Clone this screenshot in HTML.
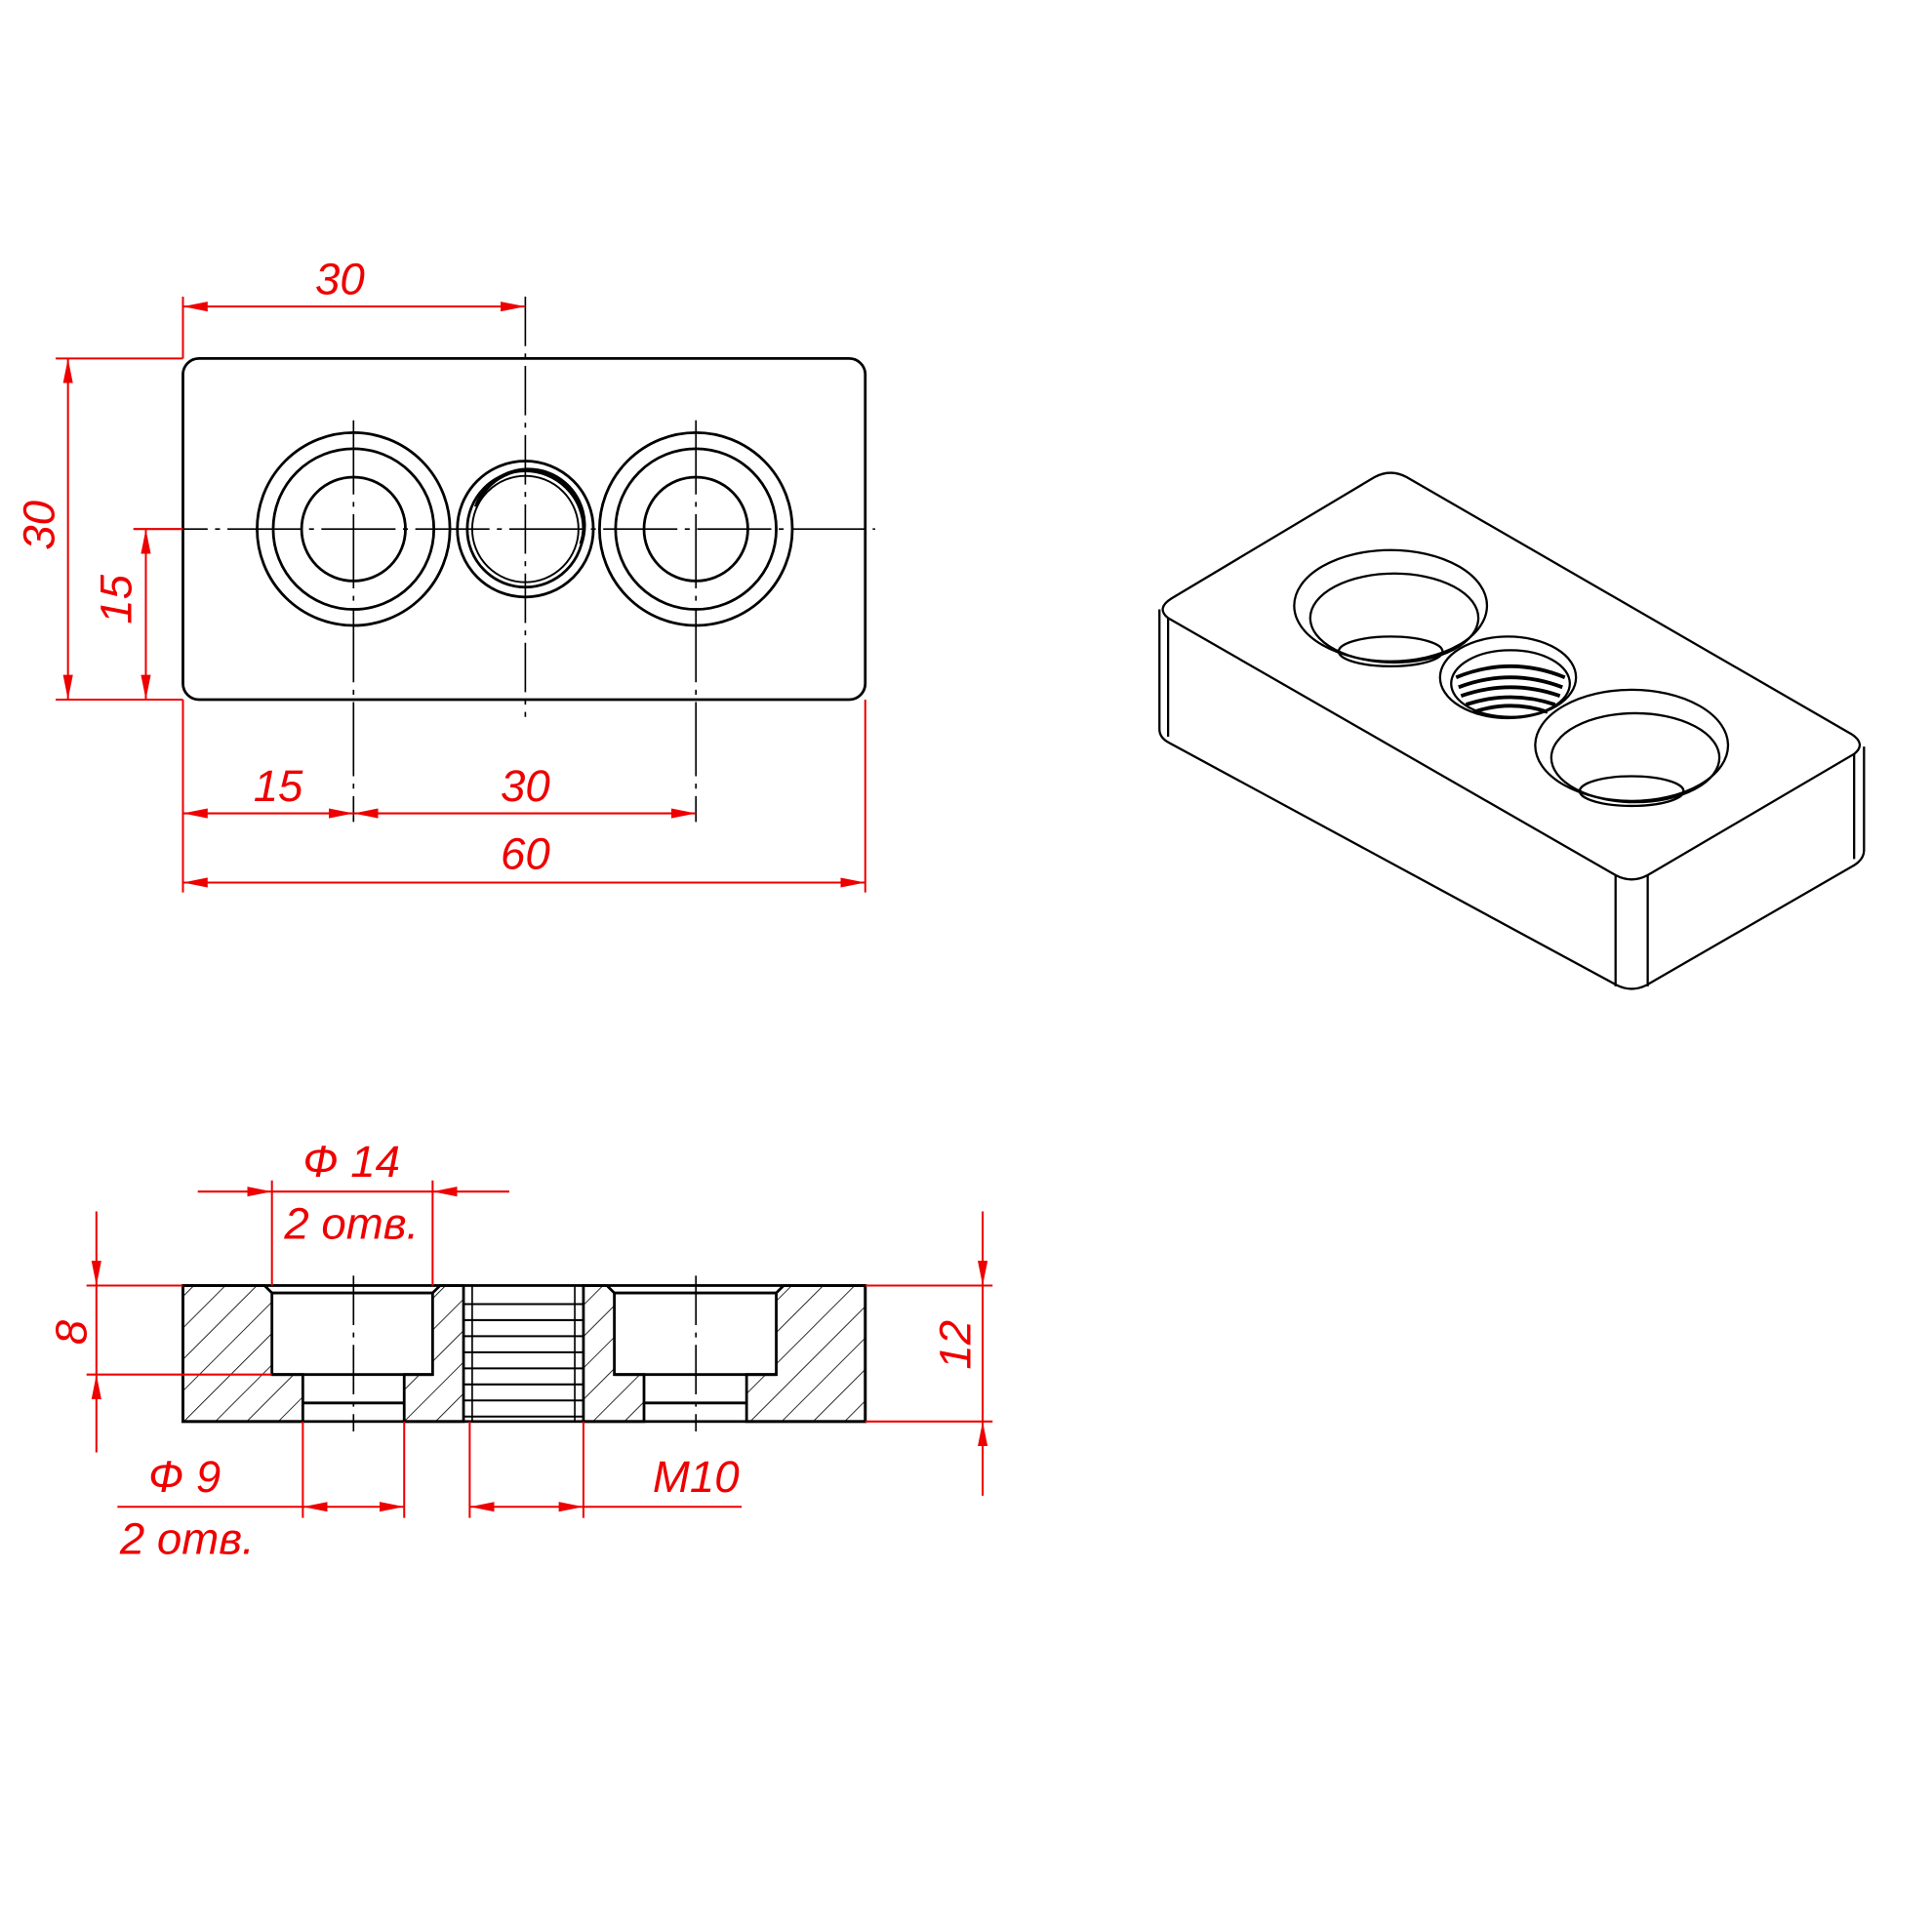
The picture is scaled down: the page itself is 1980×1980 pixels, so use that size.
<!DOCTYPE html>
<html><head><meta charset="utf-8"><style>
html,body{margin:0;padding:0;background:#fff;}
svg{display:block;}
text{font-family:"Liberation Sans","DejaVu Sans",sans-serif;font-style:italic;fill:#e00;font-size:36px;}
</style></head><body>
<svg width="1980" height="1980" viewBox="0 0 1563 1563" xmlns="http://www.w3.org/2000/svg">
<defs>
<marker id="a" viewBox="0 0 20 10" refX="20" refY="5" markerWidth="20" markerHeight="10" markerUnits="userSpaceOnUse" orient="auto-start-reverse"><path d="M0,1 L20,5 L0,9 Z" fill="#e00"/></marker>
<pattern id="h" patternUnits="userSpaceOnUse" width="18" height="18" patternTransform="rotate(45)"><line x1="0" y1="0" x2="0" y2="18" stroke="#000" stroke-width="1.3"/></pattern>
</defs>
<rect width="1563" height="1563" fill="#fff"/>
<g stroke="#000" fill="none" stroke-width="2.2">
<rect x="148" y="290" width="552" height="276" rx="13"/>
<circle cx="286" cy="428" r="78"/><circle cx="286" cy="428" r="65"/><circle cx="286" cy="428" r="42"/>
<circle cx="563" cy="428" r="78"/><circle cx="563" cy="428" r="65"/><circle cx="563" cy="428" r="42"/>
<circle cx="425" cy="428" r="55"/><circle cx="425" cy="428" r="47"/><circle cx="425" cy="428" r="43" stroke-width="1.5"/>
<path d="M385,410 A45,45 0 0 1 470,440" stroke-width="3"/>
</g>
<g stroke="#000" stroke-width="1.3" fill="none">
<line x1="108" y1="428" x2="708" y2="428" stroke-dasharray="60,6,4,6"/>
<line x1="286" y1="340" x2="286" y2="665" stroke-dasharray="60,6,4,6"/>
<line x1="563" y1="340" x2="563" y2="665" stroke-dasharray="60,6,4,6"/>
<line x1="425" y1="240" x2="425" y2="580" stroke-dasharray="40,6,4,6"/>
</g>
<g stroke="#e00" stroke-width="1.6" fill="none">
<line x1="148" y1="240" x2="148" y2="290"/>
<line x1="148" y1="248" x2="425" y2="248" marker-start="url(#a)" marker-end="url(#a)"/>
<line x1="45" y1="290" x2="148" y2="290"/><line x1="45" y1="566" x2="148" y2="566"/>
<line x1="55" y1="290" x2="55" y2="566" marker-start="url(#a)" marker-end="url(#a)"/>
<line x1="108" y1="428" x2="148" y2="428"/>
<line x1="118" y1="428" x2="118" y2="566" marker-start="url(#a)" marker-end="url(#a)"/>
<line x1="148" y1="566" x2="148" y2="722"/><line x1="700" y1="566" x2="700" y2="722"/>
<line x1="148" y1="658" x2="286" y2="658" marker-start="url(#a)" marker-end="url(#a)"/>
<line x1="286" y1="658" x2="563" y2="658" marker-start="url(#a)" marker-end="url(#a)"/>
<line x1="148" y1="714" x2="700" y2="714" marker-start="url(#a)" marker-end="url(#a)"/>
</g>
<text x="255" y="238">30</text>
<text transform="translate(44,445) rotate(-90)">30</text>
<text transform="translate(106,505) rotate(-90)">15</text>
<text x="205" y="648">15</text>
<text x="405" y="648">30</text>
<text x="405" y="703">60</text>
<path d="M148,1040 H214 L220,1046 V1112 H245 V1150 H148 Z" fill="url(#h)" stroke="#000" stroke-width="2.2"/>
<path d="M356,1040 H375 V1150 H327 V1112 H350 V1046 Z" fill="url(#h)" stroke="#000" stroke-width="2.2"/>
<path d="M472,1040 H491 L497,1046 V1112 H521 V1150 H472 Z" fill="url(#h)" stroke="#000" stroke-width="2.2"/>
<path d="M634,1040 H700 V1150 H604 V1112 H628 V1046 Z" fill="url(#h)" stroke="#000" stroke-width="2.2"/>
<g stroke="#000" fill="none" stroke-width="2.2">
<rect x="148" y="1040" width="552" height="110"/>
<path d="M220,1046 H350 M220,1112 H350 M245,1135 H327 M497,1046 H628 M497,1112 H628 M521,1135 H604"/>
<path d="M375,1055 H472 M375,1068 H472 M375,1081 H472 M375,1094 H472 M375,1107 H472 M375,1120 H472 M375,1133 H472 M375,1146 H472" stroke-width="1.6"/>
<path d="M382,1040 V1150 M465,1040 V1150" stroke-width="1.3"/>
</g>
<g stroke="#000" stroke-width="1.3"><line x1="286" y1="1032" x2="286" y2="1158" stroke-dasharray="40,6,4,6"/><line x1="563" y1="1032" x2="563" y2="1158" stroke-dasharray="40,6,4,6"/></g>
<g stroke="#e00" stroke-width="1.6" fill="none">
<line x1="220" y1="955" x2="220" y2="1040"/><line x1="350" y1="955" x2="350" y2="1040"/>
<line x1="160" y1="964" x2="220" y2="964" marker-end="url(#a)"/><line x1="412" y1="964" x2="350" y2="964" marker-end="url(#a)"/>
<line x1="220" y1="964" x2="350" y2="964"/>
<line x1="70" y1="1040" x2="148" y2="1040"/><line x1="70" y1="1112" x2="220" y2="1112"/>
<line x1="78" y1="980" x2="78" y2="1040" marker-end="url(#a)"/><line x1="78" y1="1175" x2="78" y2="1112" marker-end="url(#a)"/>
<line x1="78" y1="1040" x2="78" y2="1112"/>
<line x1="700" y1="1040" x2="803" y2="1040"/><line x1="700" y1="1150" x2="803" y2="1150"/>
<line x1="795" y1="980" x2="795" y2="1040" marker-end="url(#a)"/><line x1="795" y1="1210" x2="795" y2="1150" marker-end="url(#a)"/>
<line x1="795" y1="1040" x2="795" y2="1150"/>
<line x1="245" y1="1150" x2="245" y2="1228"/><line x1="327" y1="1150" x2="327" y2="1228"/>
<line x1="95" y1="1219" x2="245" y2="1219"/>
<line x1="245" y1="1219" x2="327" y2="1219" marker-start="url(#a)" marker-end="url(#a)"/>
<line x1="380" y1="1150" x2="380" y2="1228"/><line x1="472" y1="1150" x2="472" y2="1228"/>
<line x1="380" y1="1219" x2="472" y2="1219" marker-start="url(#a)" marker-end="url(#a)"/>
<line x1="472" y1="1219" x2="600" y2="1219"/>
</g>
<text x="245" y="952">Ф 14</text>
<text x="230" y="1002">2 отв.</text>
<text transform="translate(70,1088) rotate(-90)">8</text>
<text transform="translate(785,1108) rotate(-90)">12</text>
<text x="120" y="1207">Ф 9</text>
<text x="97" y="1257">2 отв.</text>
<text x="528" y="1207">M10</text>
<g stroke="#000" fill="none" stroke-width="1.8">
<path d="M948,484 L1112,386 Q1125,379 1138,386 L1498,594 Q1510,602 1500,610 L1333,708 Q1320,715 1307,708 L945,500 Q935,492 948,484 Z"/>
<path d="M938,493 V590 Q938,597 946,601 L1308,797 Q1320,803 1332,797 L1500,700 Q1508,695 1508,688 V604"/>
<path d="M945,500 V596 M1307,708 V798 M1333,708 V798 M1500,610 V695"/>
<ellipse cx="1125" cy="490" rx="78" ry="45"/>
<ellipse cx="1128" cy="500" rx="68" ry="36"/>
<ellipse cx="1125" cy="527" rx="42" ry="12"/>
<ellipse cx="1320" cy="603" rx="78" ry="45"/>
<ellipse cx="1323" cy="613" rx="68" ry="36"/>
<ellipse cx="1320" cy="640" rx="42" ry="12"/>
<ellipse cx="1220" cy="548" rx="55" ry="33"/>
<ellipse cx="1222" cy="553" rx="48" ry="27"/>
</g>
<g stroke="#000" fill="none" stroke-width="3">
<path d="M1178,548 Q1222,530 1266,548"/><path d="M1180,556 Q1222,540 1264,556"/>
<path d="M1182,563 Q1222,549 1262,563"/><path d="M1186,570 Q1222,558 1258,570"/>
<path d="M1192,576 Q1222,566 1252,576"/>
</g>
</svg>
</body></html>
